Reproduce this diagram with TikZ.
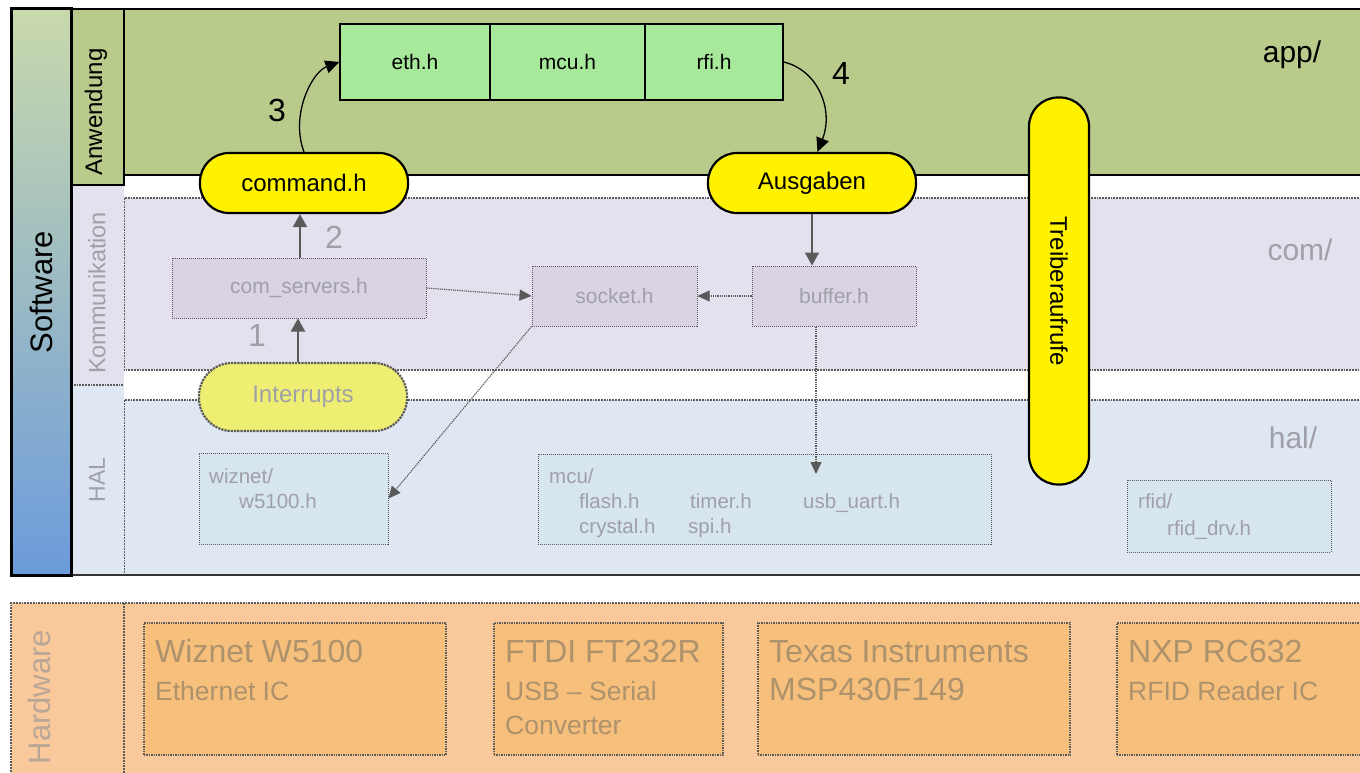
\documentclass[tikz,border=0pt]{standalone}
\usepackage{fontspec}
\setmainfont{Liberation Sans}
\usetikzlibrary{arrows.meta}

\definecolor{appgreen}{RGB}{184,203,139}
\definecolor{hgreen}{RGB}{168,232,154}
\definecolor{comlav}{RGB}{229,224,237}
\definecolor{comboxc}{RGB}{218,211,228}
\definecolor{halblue}{RGB}{223,231,242}
\definecolor{halboxc}{RGB}{215,229,238}
\definecolor{hwor}{RGB}{249,201,156}
\definecolor{hwbox}{RGB}{247,191,124}
\definecolor{fadetext}{RGB}{160,160,168}
\definecolor{hwtext}{RGB}{174,146,108}
\definecolor{hwlabel}{RGB}{186,166,150}
\definecolor{fadeline}{RGB}{90,90,90}
\definecolor{swtop}{RGB}{201,217,172}
\definecolor{swbot}{RGB}{108,155,220}
\definecolor{fadeyellow}{RGB}{238,238,115}

\newcommand{\pxfont}[1]{\fontsize{#1}{#1}\selectfont}

\tikzset{
  pill/.style={draw=black, line width=2.2pt, fill=yellow, rounded corners=29pt,
    minimum width=208pt, minimum height=60pt, inner sep=0pt, font=\pxfont{24}},
  hdr/.style={draw=black, line width=1.2pt, fill=hgreen, minimum height=76pt,
    inner sep=0pt, font=\pxfont{21}},
  combox/.style={draw=fadeline, densely dotted, line width=1pt, fill=comboxc,
    text=fadetext, font=\pxfont{21}, inner sep=0pt, minimum height=60pt},
  halbox/.style={draw=fadeline, densely dotted, line width=1pt, fill=halboxc,
    inner sep=0pt},
  hwbox/.style={draw=fadeline, densely dotted, line width=1.4pt, fill=hwbox,
    inner sep=0pt, minimum height=132pt},
  haltext/.style={anchor=base west, inner sep=0pt, text=fadetext, font=\pxfont{20.5}},
  hwbig/.style={anchor=base west, inner sep=0pt, text=hwtext, font=\pxfont{32}},
  hwsmall/.style={anchor=base west, inner sep=0pt, text=hwtext, font=\pxfont{26.5}},
  collabel/.style={rotate=90, inner sep=0pt, font=\pxfont{24}},
  dirlabel/.style={inner sep=0pt, text=fadetext, font=\pxfont{30}},
  numlabel/.style={inner sep=0pt, font=\pxfont{32}},
  region/.style={draw=fadeline, densely dotted, line width=1.8pt},
  blackarrow/.style={draw=black, line width=1.3pt, -{Triangle[width=13pt,length=14pt]}},
  greyarrow/.style={draw=fadeline, line width=2pt, -{Triangle[width=14pt,length=13pt]}},
  dotarrow/.style={draw=fadeline, densely dotted, line width=1.2pt,
    -{Triangle[width=11pt,length=12pt]}},
}

\begin{document}
\begin{tikzpicture}[x=1pt,y=-1pt]
\useasboundingbox (0,0) rectangle (1360,773);
\clip (0,0) rectangle (1360,773);
\fill[white] (0,0) rectangle (1360,773);

% ---- software layers ----
% com/ and hal/ bands
\fill[comlav] (124,198) rectangle (1370,370);
\fill[halblue] (124,400) rectangle (1370,575);
\draw[region] (1370,198) -- (124,198) -- (124,370) -- (1370,370);
\draw[region] (1370,400) -- (124,400) -- (124,575) -- (1370,575);

% side columns
\fill[comlav] (71,185) rectangle (124,385);
\fill[halblue] (71,385) rectangle (124,575);
\draw[region] (71,385) -- (124,385);

% app/ band
\filldraw[fill=appgreen, draw=black, line width=2.5pt] (1370,9) -- (124,9) -- (124,175) -- (1370,175);
\filldraw[fill=appgreen, draw=black, line width=2.5pt] (71,9) rectangle (124,185);

% bottom edge of the software block
\draw[black!80, line width=2.5pt] (71,575) -- (1370,575);

% software bar
\shade[top color=swtop, bottom color=swbot] (11,9) rectangle (71,575);
\draw[black, line width=3pt] (11,9) rectangle (71,575);

% ---- hardware layer ----
\fill[hwor] (11,603) rectangle (1370,780);
\draw[region] (11,780) -- (11,603) -- (1370,603);
\draw[region] (124,603) -- (124,780);

% ---- column labels ----
\node[collabel, font=\pxfont{31}] (lsw) at (41,292) {Software};
\node[collabel] (lapp) at (96,112) {Anwendung};
\node[collabel, text=fadetext, font=\pxfont{23.5}] (lcom) at (97,293) {Kommunikation};
\node[collabel, text=fadetext, font=\pxfont{23}] (lhal) at (97,480) {HAL};
\node[collabel, text=hwlabel, font=\pxfont{31}] (lhw) at (39,697) {Hardware};

% ---- directory names ----
\node[inner sep=0pt, font=\pxfont{30}] (dapp) at (1292,55) {app/};
\node[dirlabel] (dcom) at (1300,250) {com/};
\node[dirlabel] (dhal) at (1293,438) {hal/};

% ---- app/ contents ----
\node[hdr, minimum width=150pt] (eth) at (415,62) {eth.h};
\node[hdr, minimum width=155pt] (mcuh) at (567.5,62) {mcu.h};
\node[hdr, minimum width=138pt] (rfi) at (714,62) {rfi.h};

% ---- com/ contents ----
\node[combox, minimum width=254pt] (srv) at (299,288) {com\_servers.h};
\node[combox, minimum width=165pt] (sock) at (614.5,296) {socket.h};
\node[combox, minimum width=164pt] (buf) at (834,296) {buffer.h};

% ---- hal/ contents ----
\node[halbox, minimum width=189pt, minimum height=91pt] (wiz) at (293.5,498.5) {};
\node[halbox, minimum width=453pt, minimum height=90pt] (mcu) at (764.5,499) {};
\node[halbox, minimum width=204pt, minimum height=72pt] (rfid) at (1229,516) {};

\node[haltext] (twiz) at (209,483) {wiznet/};
\node[haltext] (tw5100) at (239,508) {w5100.h};
\node[haltext] (tmcu) at (549,483) {mcu/};
\node[haltext] (tflash) at (579,508) {flash.h};
\node[haltext] (ttimer) at (690,508) {timer.h};
\node[haltext] (tusb) at (803,508) {usb\_uart.h};
\node[haltext] (tcrys) at (579,533) {crystal.h};
\node[haltext] (tspi) at (688,533) {spi.h};
\node[haltext] (trfid) at (1138,508) {rfid/};
\node[haltext] (trdrv) at (1167,535) {rfid\_drv.h};

% ---- hardware components ----
\node[hwbox, minimum width=302pt] (hwiz) at (295,689) {};
\node[hwbox, minimum width=229pt] (hftdi) at (608.5,689) {};
\node[hwbox, minimum width=312pt] (hti) at (914,689) {};
\node[hwbox, minimum width=260pt] (hnxp) at (1247,689) {};

\node[hwbig] (t1a) at (155,662) {Wiznet W5100};
\node[hwsmall] (t1b) at (155,700) {Ethernet IC};
\node[hwbig] (t2a) at (505,662) {FTDI FT232R};
\node[hwsmall] (t2b) at (505,700) {USB -- Serial};
\node[hwsmall] (t2c) at (505,734) {Converter};
\node[hwbig] (t3a) at (769,662) {Texas Instruments};
\node[hwbig] (t3b) at (769,700) {MSP430F149};
\node[hwbig] (t4a) at (1128,662) {NXP RC632};
\node[hwsmall] (t4b) at (1128,700) {RFID Reader IC};

% ---- interface pills ----
\node[pill, draw=fadeline, densely dotted, fill=fadeyellow, text=fadetext,
  minimum height=68pt, rounded corners=33pt] (irq) at (303,397) {Interrupts};
\node[pill] (cmd) at (304,183) {command.h};
\node[pill] (aus) at (812,183) {Ausgaben};
\node[pill, minimum width=60pt, minimum height=387pt] (drv) at (1059,291) {};
\node[rotate=-90, inner sep=0pt, font=\pxfont{24}] (tdrv) at (drv.center) {Treiberaufrufe};

% ---- call flow ----
\draw[greyarrow] (irq.north -| 298,0) -- (srv.south -| 298,0);
\draw[greyarrow] (srv.north -| 300,0) -- (cmd.south -| 300,0);
\draw[blackarrow] (cmd.north) .. controls (290,115) and (312,72) .. (eth.west);
\draw[blackarrow] (rfi.east) .. controls (818,70) and (834,110) .. (aus.80);
\draw[greyarrow] (aus.south) -- (aus.south |- buf.north);
\draw[dotarrow] (srv.east) -- (sock.west);
\draw[dotarrow] (buf.west) -- (sock.east);
\coordinate (mcuin) at (816,474);
\draw[dotarrow] (buf.south -| mcuin) -- (mcuin);
\draw[dotarrow] (sock.south west) -- (wiz.east);

\node[numlabel] (n3) at (277,110) {3};
\node[numlabel] (n4) at (841,73) {4};
\node[numlabel, text=fadetext] (n2) at (334,237) {2};
\node[numlabel, text=fadetext] (n1) at (257,335) {1};
\end{tikzpicture}
\end{document}
